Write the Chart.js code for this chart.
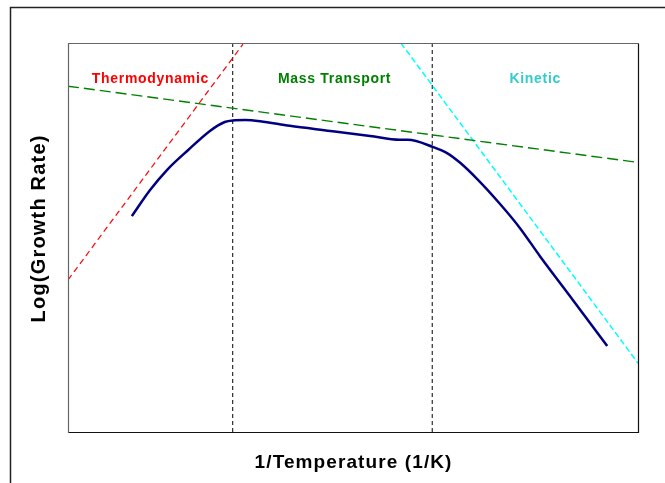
<!DOCTYPE html>
<html>
<head>
<meta charset="utf-8">
<script src="https://cdn.jsdelivr.net/npm/chart.js@4"></script>
<style>
html,body{margin:0;padding:0;background:#fff;}
canvas{display:block;}
</style>
</head>
<body>
<canvas id="c" width="665" height="483"></canvas>
<script>
// Data (arbitrary units: x = 1/T, y = log growth rate)
const growthX = [1.12,1.44,1.74,2.11,2.49,2.75,2.89,3.11,3.37,3.89,4.60,5.30,5.82,5.96,6.40,6.65,6.88,7.18,7.58,7.93,8.28,8.86,9.46];
const growthY = [5.55,6.22,6.74,7.25,7.74,7.97,8.01,8.02,7.99,7.87,7.74,7.61,7.51,7.51,7.33,7.17,6.92,6.50,5.86,5.24,4.52,3.39,2.21];
const thermoX = [0.00, 3.07];
const thermoY = [3.91, 9.97];
const massX = [0.00, 10.00];
const massY = [8.89, 6.93];
const kineticX = [5.84, 10.00];
const kineticY = [10.00, 1.77];
const boundaryX = [2.89, 6.39];
const regionLabels = ["Thermodynamic", "Mass Transport", "Kinetic"];
const regionLabelX = [1.44, 4.67, 8.19];
const regionLabelY = [9.06, 9.06, 9.06];
const xTitle = "1/Temperature (1/K)";
const yTitle = "Log(Growth Rate)";

const pts = (xs, ys) => xs.map((x, i) => ({x: x, y: ys[i]}));

const datasets = [
  {data: pts(thermoX, thermoY), borderColor: '#FF0000', borderWidth: 1.2, borderDash: [6,4]},
  {data: pts(massX, massY), borderColor: '#008000', borderWidth: 1.4, borderDash: [11,5]},
  {data: pts(kineticX, kineticY), borderColor: '#00FFFF', borderWidth: 1.5, borderDash: [6,3]},
  {data: pts(growthX, growthY), borderColor: '#000080', borderWidth: 2.5, cubicInterpolationMode: 'monotone'}
];
boundaryX.forEach(bx => datasets.push({data: [{x: bx, y: 0}, {x: bx, y: 10}], borderColor: '#000000', borderWidth: 1, borderDash: [4,3]}));
datasets.forEach(d => { d.showLine = true; d.pointRadius = 0; d.fill = false; });

const regionColors = ['#FF0000', '#008000', '#33CCCC'];

function spacedText(ctx, t, x, y, sp) {
  ctx.letterSpacing = sp + 'px';
  ctx.fillText(t, x + sp / 2, y);
  ctx.letterSpacing = '0px';
}

const decor = {
  id: 'decor',
  beforeDraw(chart) {
    const ctx = chart.ctx;
    ctx.save();
    ctx.fillStyle = '#fff';
    ctx.fillRect(0, 0, chart.width, chart.height);
    ctx.strokeStyle = '#222';
    ctx.lineWidth = 1.5;
    ctx.beginPath();
    ctx.moveTo(10.5, chart.height + 2);
    ctx.lineTo(10.5, 7.5);
    ctx.lineTo(chart.width + 2, 7.5);
    ctx.stroke();
    ctx.restore();
  },
  afterDraw(chart) {
    const ctx = chart.ctx;
    const a = chart.chartArea;
    const xs = chart.scales.x, ys = chart.scales.y;
    ctx.save();
    ctx.lineWidth = 1.2;
    ctx.strokeStyle = '#666';
    ctx.beginPath();
    ctx.moveTo(a.left + 0.5, a.bottom + 0.5);
    ctx.lineTo(a.left + 0.5, a.top + 0.5);
    ctx.lineTo(a.right + 0.5, a.top + 0.5);
    ctx.stroke();
    ctx.strokeStyle = '#111';
    ctx.beginPath();
    ctx.moveTo(a.right + 0.5, a.top + 0.5);
    ctx.lineTo(a.right + 0.5, a.bottom + 0.5);
    ctx.lineTo(a.left + 0.5, a.bottom + 0.5);
    ctx.stroke();
    ctx.textAlign = 'center';
    ctx.textBaseline = 'middle';
    ctx.font = 'bold 14px "Liberation Sans", Arial, sans-serif';
    regionLabels.forEach((t, i) => {
      ctx.fillStyle = regionColors[i];
      spacedText(ctx, t, xs.getPixelForValue(regionLabelX[i]), ys.getPixelForValue(regionLabelY[i]), 0.7);
    });
    ctx.fillStyle = '#000';
    ctx.font = 'bold 19px "Liberation Sans", Arial, sans-serif';
    spacedText(ctx, xTitle, 353, 463, 1.1);
    ctx.font = 'bold 20px "Liberation Sans", Arial, sans-serif';
    ctx.translate(39, 229);
    ctx.rotate(-Math.PI / 2);
    spacedText(ctx, yTitle, 0, 0, 1.2);
    ctx.restore();
  }
};

new Chart(document.getElementById('c'), {
  type: 'scatter',
  data: {datasets: datasets},
  options: {
    responsive: false,
    animation: false,
    layout: {padding: {left: 68, right: 27, top: 43, bottom: 51}},
    plugins: {legend: {display: false}, tooltip: {enabled: false}},
    scales: {
      x: {type: 'linear', min: 0, max: 10, display: false},
      y: {type: 'linear', min: 0, max: 10, display: false}
    }
  },
  plugins: [decor]
});
</script>
</body>
</html>
